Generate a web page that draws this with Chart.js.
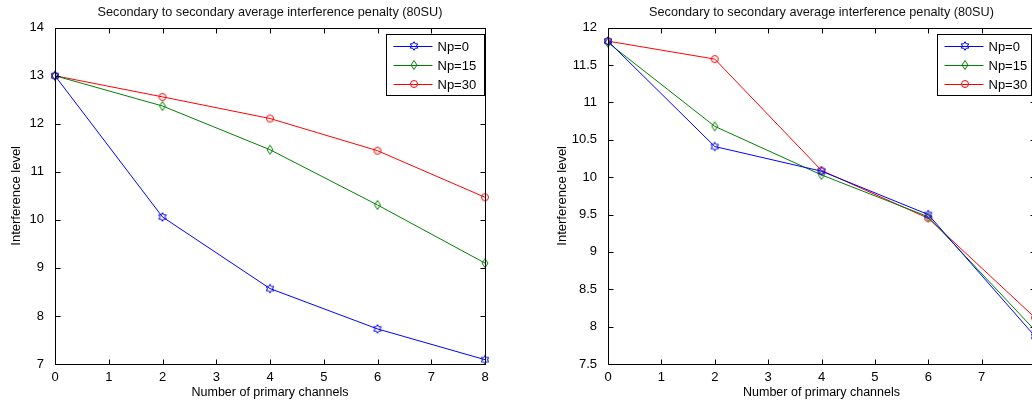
<!DOCTYPE html>
<html>
<head>
<meta charset="utf-8">
<script src="https://cdn.jsdelivr.net/npm/chart.js@4.4.0/dist/chart.umd.min.js"></script>
<style>
  html, body { margin: 0; padding: 0; background: #fff; overflow: hidden; width: 1032px; height: 403px; }
  canvas { position: absolute; top: 0; }
  #leftChart { left: 0; }
  #rightChart { left: 546px; }
</style>
</head>
<body>
<canvas id="leftChart" width="516" height="403"></canvas>
<canvas id="rightChart" width="530" height="403"></canvas>
<script>
const chartTitle = 'Secondary to secondary average interference penalty (80SU)';
const xAxisTitle = 'Number of primary channels';
const yAxisTitle = 'Interference level';

const xValues = [0, 2, 4, 6, 8];
const seriesNames = ['Np=0', 'Np=15', 'Np=30'];
const seriesColors = ['#0000ff', '#008000', '#ff0000'];
const seriesMarkers = ['hexagram', 'diamond', 'circle'];

// left panel values
const leftNp0 = [13.0, 10.06, 8.57, 7.73, 7.09];
const leftNp15 = [13.0, 12.37, 11.46, 10.31, 9.1];
const leftNp30 = [13.0, 12.56, 12.11, 11.44, 10.47];

// right panel values
const rightNp0 = [11.82, 10.41, 10.08, 9.5, 7.87];
const rightNp15 = [11.8, 10.68, 10.03, 9.47, 7.95];
const rightNp30 = [11.82, 11.58, 10.09, 9.45, 8.12];

const xTicks = [0, 1, 2, 3, 4, 5, 6, 7, 8];
const leftYTicks = [7, 8, 9, 10, 11, 12, 13, 14];
const rightYTicks = [7.5, 8, 8.5, 9, 9.5, 10, 10.5, 11, 11.5, 12];

const fontFamily = '"Liberation Sans", Arial, sans-serif';

// unfilled matlab-like markers as small canvases
function makeMarker(shape, color) {
  const c = document.createElement('canvas');
  c.width = 14;
  c.height = 14;
  const ctx = c.getContext('2d');
  ctx.strokeStyle = color;
  ctx.lineWidth = 1;
  ctx.translate(7, 7);
  ctx.beginPath();
  if (shape === 'circle') {
    ctx.arc(0, 0, 3.5, 0, Math.PI * 2);
  } else if (shape === 'diamond') {
    ctx.moveTo(0, -4.5);
    ctx.lineTo(3, 0);
    ctx.lineTo(0, 4.5);
    ctx.lineTo(-3, 0);
    ctx.closePath();
  } else {
    for (let k = 0; k < 12; k++) {
      const r = k % 2 === 0 ? 4.3 : 2.5;
      const a = -Math.PI / 2 + k * Math.PI / 6;
      if (k === 0) ctx.moveTo(r * Math.cos(a), r * Math.sin(a));
      else ctx.lineTo(r * Math.cos(a), r * Math.sin(a));
    }
    ctx.closePath();
  }
  ctx.stroke();
  return c;
}

// box + inward ticks on all four sides
const boxPlugin = {
  id: 'matlabBox',
  afterDatasetsDraw(chart) {
    const {ctx, chartArea: a, scales} = chart;
    const l = Math.round(a.left) + 0.5, r = Math.round(a.right) + 0.5;
    const t = Math.round(a.top) + 0.5, b = Math.round(a.bottom) + 0.5;
    ctx.save();
    ctx.strokeStyle = '#000';
    ctx.lineWidth = 1;
    ctx.strokeRect(l, t, r - l, b - t);
    ctx.beginPath();
    scales.x.ticks.forEach(tk => {
      const x = Math.round(scales.x.getPixelForValue(tk.value)) + 0.5;
      ctx.moveTo(x, b); ctx.lineTo(x, b - 5);
      ctx.moveTo(x, t); ctx.lineTo(x, t + 5);
    });
    scales.y.ticks.forEach(tk => {
      const y = Math.round(scales.y.getPixelForValue(tk.value)) + 0.5;
      ctx.moveTo(l, y); ctx.lineTo(l + 5, y);
      ctx.moveTo(r, y); ctx.lineTo(r - 5, y);
    });
    ctx.stroke();
    ctx.restore();
  }
};

// legend box inside the axes, top right
const legendPlugin = {
  id: 'matlabLegend',
  afterDraw(chart, args, opts) {
    const {ctx, chartArea: a} = chart;
    const left = Math.round(a.left + opts.offsetX) + 0.5;
    const top = Math.round(a.top + 6) + 0.5;
    ctx.save();
    ctx.fillStyle = '#fff';
    ctx.fillRect(left, top, opts.width, 61);
    ctx.strokeStyle = '#000';
    ctx.lineWidth = 1;
    ctx.strokeRect(left, top, opts.width, 61);
    ctx.font = '13px ' + fontFamily;
    ctx.textBaseline = 'middle';
    ctx.textAlign = 'left';
    chart.data.datasets.forEach((ds, i) => {
      const y = Math.round(top + 11 + 19 * i);
      ctx.strokeStyle = ds.borderColor;
      ctx.beginPath();
      ctx.moveTo(left + 7, y + 0.5);
      ctx.lineTo(left + 46, y + 0.5);
      ctx.stroke();
      const img = ds.pointStyle;
      ctx.drawImage(img, Math.round(left + 27) - img.width / 2, y - img.height / 2);
      ctx.fillStyle = '#000';
      ctx.fillText(ds.label, left + 51, y + 1);
    });
    ctx.restore();
  }
};

function createPanel(canvasId, seriesList, yTicks, yWidth, rightPad, legendOffset, legendWidth) {
  const ctx = document.getElementById(canvasId).getContext('2d');

  const datasets = seriesList.map((values, i) => ({
    label: seriesNames[i],
    data: values.map((v, j) => ({x: xValues[j], y: v})),
    borderColor: seriesColors[i],
    backgroundColor: 'transparent',
    borderWidth: 1,
    pointStyle: makeMarker(seriesMarkers[i], seriesColors[i]),
    pointRadius: 4,
    pointHoverRadius: 4,
    tension: 0,
    clip: false
  }));

  return new Chart(ctx, {
    type: 'line',
    data: {datasets: datasets},
    options: {
      responsive: false,
      animation: false,
      events: [],
      layout: {padding: {left: 0, right: rightPad, top: 0, bottom: 0}},
      plugins: {
        legend: {display: false},
        tooltip: {enabled: false},
        title: {
          display: true,
          text: chartTitle,
          fullSize: false,
          color: '#111',
          font: {family: fontFamily, size: 12.7, weight: 'normal', lineHeight: 1},
          padding: {top: 6, bottom: 9}
        },
        matlabLegend: {offsetX: legendOffset, width: legendWidth}
      },
      scales: {
        x: {
          type: 'linear',
          min: xTicks[0],
          max: xTicks[xTicks.length - 1],
          afterBuildTicks: (scale) => { scale.ticks = xTicks.map(v => ({value: v})); },
          afterFit: (scale) => { scale.height = 39; },
          grid: {display: false},
          border: {display: false},
          ticks: {
            color: '#000',
            padding: -2,
            autoSkip: false,
            maxRotation: 0,
            font: {family: fontFamily, size: 13},
            callback: (v) => String(v)
          },
          title: {
            display: true,
            text: xAxisTitle,
            color: '#000',
            font: {family: fontFamily, size: 12.5},
            padding: {top: 0, bottom: 3}
          }
        },
        y: {
          type: 'linear',
          min: yTicks[0],
          max: yTicks[yTicks.length - 1],
          afterBuildTicks: (scale) => { scale.ticks = yTicks.map(v => ({value: v})); },
          afterFit: (scale) => { scale.width = yWidth; },
          grid: {display: false},
          border: {display: false},
          ticks: {
            color: '#000',
            padding: 3,
            autoSkip: false,
            font: {family: fontFamily, size: 13},
            callback: (v) => String(v)
          },
          title: {
            display: true,
            text: yAxisTitle,
            color: '#000',
            font: {family: fontFamily, size: 13},
            padding: {top: 9, bottom: 0}
          }
        }
      }
    },
    plugins: [boxPlugin, legendPlugin]
  });
}

createPanel('leftChart', [leftNp0, leftNp15, leftNp30], leftYTicks, 55, 31, 331, 98);
createPanel('rightChart', [rightNp0, rightNp15, rightNp30], rightYTicks, 62, 41, 329, 94);
</script>
</body>
</html>
